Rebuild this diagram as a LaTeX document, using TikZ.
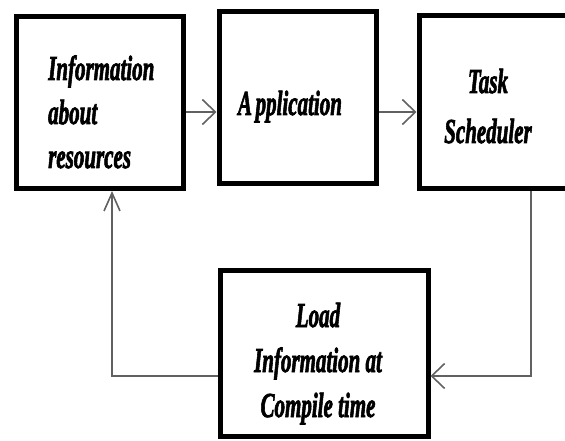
\documentclass[tikz,border=0pt]{standalone}
\usepackage{fontspec}
\usepackage{graphicx}
\setmainfont{Liberation Serif}[BoldItalicFeatures={FakeBold=2.5}]
\usetikzlibrary{arrows.meta}
\begin{document}
\begin{tikzpicture}[x=1pt,y=-1pt,
  blockbox/.style={draw=black,line width=5pt,fill=white,inner sep=0pt},
  lbl/.style={inner sep=0pt,font=\bfseries\itshape},
  conn/.style={draw=black!62,line width=1.6pt},
  htip/.style={-{Straight Barb[length=13pt,width=25pt]}},
  vtip/.style={-{Straight Barb[length=18pt,width=16pt]}}]
\useasboundingbox (0,0) rectangle (565,441);
\clip (0,0) rectangle (565,441);
% boxes
\node[blockbox,minimum width=167pt,minimum height=172pt] (b1) at (99.5,102.5) {};
\node[blockbox,minimum width=157pt,minimum height=171pt] (b2) at (297.5,97.5) {};
\node[blockbox,minimum width=153pt,minimum height=172pt] (b3) at (495.5,102) {};
\node[blockbox,minimum width=208pt,minimum height=166pt] (b4) at (324,353) {};
% texts
\node[lbl,anchor=base west] (t1) at (48,80) {\fontsize{35}{44}\selectfont\scalebox{0.6}[1]{\begin{tabular}[t]{@{}l@{}}Information\\about\\resources\end{tabular}}};
\node[lbl,anchor=base] (t2) at (290,115) {\fontsize{35}{44}\selectfont\scalebox{0.6}[1]{A\kern6pt pplication}};
\node[lbl,anchor=base] (t3) at (488,93) {\fontsize{35}{50}\selectfont\scalebox{0.6}[1]{\begin{tabular}[t]{@{}c@{}}Task\\Scheduler\end{tabular}}};
\node[lbl,anchor=base] (t4) at (318,327) {\fontsize{35}{45}\selectfont\scalebox{0.6}[1]{\begin{tabular}[t]{@{}c@{}}Load\\Information at\\Compile time\end{tabular}}};
% connector helpers
\coordinate (ry) at (0,112);
\coordinate (rx) at (531,0);
\coordinate (lx) at (112,0);
\coordinate (by) at (0,376);
% connectors
\draw[conn,htip] (b1.east |- ry) -- (b2.west |- ry);
\draw[conn,htip] (b2.east |- ry) -- (b3.west |- ry);
\draw[conn,htip] (b3.south -| rx) -- (rx |- by) -- (b4.east |- by);
\draw[conn,vtip] (b4.west |- by) -- (lx |- by) -- (b1.south -| lx);
\end{tikzpicture}
\end{document}
